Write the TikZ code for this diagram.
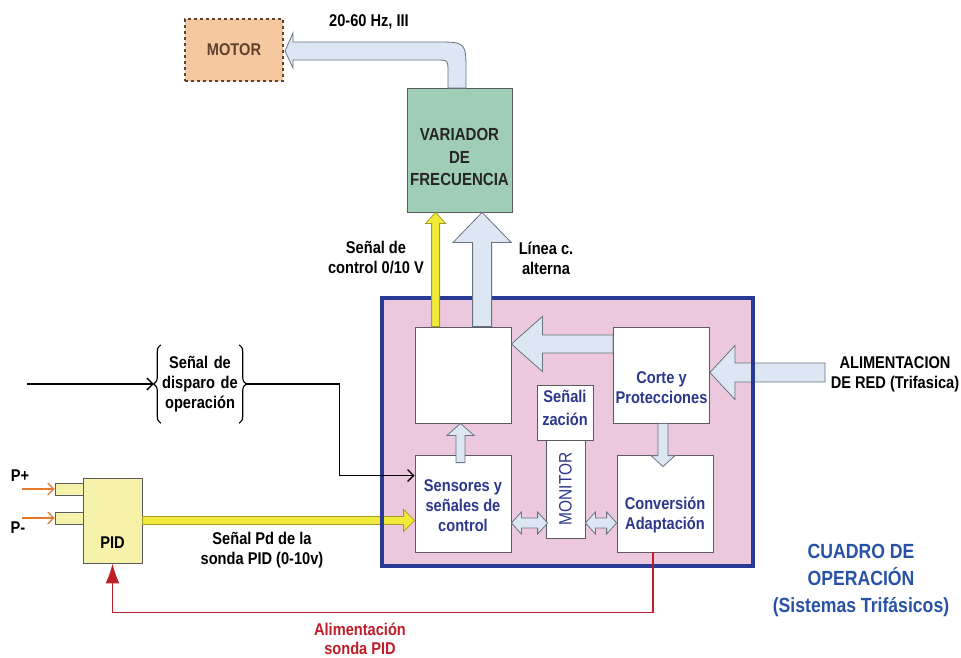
\documentclass[tikz,border=0pt]{standalone}
\usepackage{fontspec}
\setmainfont{Liberation Sans}[FakeStretch=0.86]
\usetikzlibrary{calc,arrows.meta,decorations.pathreplacing}

\definecolor{pinkfill}{RGB}{236,200,222}
\definecolor{frameblue}{RGB}{38,58,150}
\definecolor{arrfill}{RGB}{221,231,243}
\definecolor{arrgray}{RGB}{105,115,130}
\definecolor{varfill}{RGB}{160,205,182}
\definecolor{motorfill}{RGB}{246,200,160}
\definecolor{motorline}{RGB}{95,65,45}
\definecolor{pidfill}{RGB}{246,242,170}
\definecolor{yelfill}{RGB}{242,234,58}
\definecolor{yelline}{RGB}{165,155,40}
\definecolor{txtblue}{RGB}{45,55,140}
\definecolor{cuadroblue}{RGB}{40,82,165}
\definecolor{redline}{RGB}{190,30,40}
\definecolor{orangeline}{RGB}{228,122,42}
\definecolor{boxgray}{RGB}{90,90,95}

% block arrow: [style]{start}{tip}{half shaft}{half head}{head length}
\newcommand{\blockarrow}[6][hollow]{%
  \coordinate (ba-s) at (#2);
  \coordinate (ba-t) at (#3);
  \coordinate (ba-b) at ($(ba-t)!#6!(ba-s)$);
  \draw[#1] ($(ba-s)!#4!90:(ba-t)$) -- ($(ba-b)!#4!90:(ba-t)$)
    -- ($(ba-b)!#5!90:(ba-t)$) -- (ba-t) -- ($(ba-b)!#5!-90:(ba-t)$)
    -- ($(ba-b)!#4!-90:(ba-t)$) -- ($(ba-s)!#4!-90:(ba-t)$) -- cycle;}

% double block arrow: [style]{end a}{end b}{half shaft}{half head}{head length}
\newcommand{\dblarrow}[6][hollow]{%
  \coordinate (da-a) at (#2);
  \coordinate (da-b) at (#3);
  \coordinate (da-p) at ($(da-a)!#6!(da-b)$);
  \coordinate (da-q) at ($(da-b)!#6!(da-a)$);
  \draw[#1] (da-a) -- ($(da-p)!#5!90:(da-b)$) -- ($(da-p)!#4!90:(da-b)$)
    -- ($(da-q)!#4!-90:(da-a)$) -- ($(da-q)!#5!-90:(da-a)$) -- (da-b)
    -- ($(da-q)!#5!90:(da-a)$) -- ($(da-q)!#4!90:(da-a)$)
    -- ($(da-p)!#4!-90:(da-b)$) -- ($(da-p)!#5!-90:(da-b)$) -- cycle;}

\tikzset{
  lbl/.style={font=\bfseries\fontsize{17}{20}\selectfont, align=center, inner sep=0pt},
  bluetxt/.style={lbl, text=txtblue},
  innerbox/.style={draw=boxgray, fill=white, line width=0.8pt, minimum width=96pt, minimum height=96pt, inner sep=0pt},
  hollow/.style={draw=arrgray, fill=arrfill, line width=0.8pt},
  yelarrow/.style={draw=yelline, fill=yelfill, line width=0.8pt},
  trig/.style={line width=1.4pt, -{Straight Barb[length=6pt,width=12pt]}},
  orarrow/.style={draw=orangeline, line width=1.2pt, -{Straight Barb[length=6pt,width=12pt]}},
  brace/.style={decorate, decoration={brace, amplitude=7pt}, line width=1.2pt},
}

\begin{document}
\begin{tikzpicture}[x=1pt,y=-1pt]
\useasboundingbox (0,0) rectangle (961,657);

% cuadro de operacion
\node[fill=pinkfill, minimum width=371pt, minimum height=268pt, inner sep=0pt] (cuadro) at (567.5,432) {};
\draw[frameblue, line width=3.5pt] (cuadro.north west) rectangle (cuadro.south east);

% boxes
\node[draw=motorline, dashed, line width=1.2pt, fill=motorfill, minimum width=98pt, minimum height=62pt, lbl, text=motorline] (motor) at (234,50) {MOTOR};
\node[draw=boxgray, line width=0.8pt, fill=varfill, minimum width=105pt, minimum height=124pt] (var) at (459.5,150) {};
\node[lbl, text=black!85, font=\bfseries\fontsize{17.5}{22.5}\selectfont] at ($(var)+(0,7)$) {VARIADOR\\DE\\FRECUENCIA};
\node[innerbox] (pot) at (463,375) {};
\node[innerbox] (corte) at (661.5,375) {};
\node[bluetxt] at ($(corte)+(0,13)$) {Corte y\\Protecciones};
\node[innerbox, minimum width=56pt, minimum height=55pt] (senal) at (565,412.5) {};
\node[bluetxt, font=\bfseries\fontsize{17}{23}\selectfont] at ($(senal)+(0,-5)$) {Señali\\zación};
\node[innerbox, minimum width=39pt, minimum height=98pt] (mon) at (565.5,489) {};
\node[text=txtblue, font=\fontsize{18}{20}\selectfont, rotate=90, inner sep=0pt] at (mon) {MONITOR};
\node[innerbox, minimum height=97pt] (sens) at (463,503.5) {};
\node[bluetxt] at ($(sens)+(0,2)$) {Sensores y\\señales de\\control};
\node[innerbox, minimum height=97pt] (conv) at (665,503.5) {};
\node[bluetxt] at ($(conv)+(0,12)$) {Conversión\\Adaptación};

% PID
\node[draw=boxgray, line width=0.8pt, fill=pidfill, minimum width=28pt, minimum height=12pt, inner sep=0pt] (stubA) at (69,489) {};
\node[draw=boxgray, line width=0.8pt, fill=pidfill, minimum width=28pt, minimum height=12pt, inner sep=0pt] (stubB) at (69,518) {};
\node[draw=boxgray, line width=0.8pt, fill=pidfill, minimum width=59pt, minimum height=85pt] (pid) at (112.5,520.5) {};
\node[lbl] at ($(pid)+(0,22)$) {PID};
\node[lbl] (pplus) at (20,476) {P+};
\node[lbl] (pminus) at (18,528) {P-};
\coordinate (inA) at (22,489);
\coordinate (inB) at (22,518);
\draw[orarrow] (inA) -- (stubA.west);
\draw[orarrow] (inB) -- (stubB.west);

% labels
\node[lbl] (hz) at (369,22) {20-60 Hz, III};
\node[lbl] (ctrllbl) at (376,258) {Señal de\\control 0/10 V};
\node[lbl] (aclbl) at (546,258) {Línea c.\\alterna};
\node[lbl] (alim) at (895,374) {ALIMENTACION\\DE RED (Trifasica)};
\node[lbl] (pdlbl) at (262,550) {Señal Pd de la\\sonda PID (0-10v)};
\node[lbl, text=redline, font=\bfseries\fontsize{17}{19}\selectfont] (redlbl) at (360,639) {Alimentación\\sonda PID};
\node[lbl, text=cuadroblue, font=\bfseries\fontsize{20.5}{27}\selectfont] (cuadrolbl) at (861,580) {CUADRO DE\\OPERACIÓN\\(Sistemas Trifásicos)};
\node[lbl, text width=78pt, minimum height=78pt] (disp) at (200,384) {Señal de\\disparo de\\operación};

% disparo
\draw[brace] (disp.south west) -- (disp.north west);
\draw[brace] (disp.north east) -- (disp.south east);
\coordinate (trigin) at (27,384);
\coordinate (bl) at ($(disp.west)+(-7,0)$);
\coordinate (br) at ($(disp.east)+(7,0)$);
\coordinate (sensin) at ($(sens.north west)+(0,21)$);
\draw[trig] (trigin) -- (bl);
\draw[line width=1.4pt] (br) -- ++(93,0) |- ($(sensin)+(-40,0)$);

% arrows crossing the sides of the frame
\coordinate (ysB) at (pid.east -| sens.west);
\blockarrow[yelarrow]{pid.east}{ysB}{4pt}{11pt}{11pt}
\coordinate (alA) at (825,372.5);
\coordinate (alB) at (alA -| corte.east);
\blockarrow[hollow]{alA}{alB}{9.5pt}{27pt}{25pt}
\draw[frameblue, line width=3.5pt] (cuadro.north west) rectangle (cuadro.south east);
\draw[trig] ($(sensin)+(-41,0)$) -- (sensin);

% arrows inside the frame
\coordinate (cpA) at ($(corte.west)+(0,-31)$);
\coordinate (cpB) at (cpA -| pot.east);
\blockarrow[hollow]{cpA}{cpB}{9pt}{27.5pt}{31pt}
\coordinate (spA) at ($(sens.north)+(-2.5,8)$);
\coordinate (spB) at (spA |- pot.south);
\blockarrow[hollow]{spA}{spB}{4.5pt}{13.5pt}{12pt}
\coordinate (ccA) at ($(corte.south)+(1.5,0)$);
\coordinate (ccB) at ($(ccA |- conv.north)+(0,12)$);
\blockarrow[hollow]{ccA}{ccB}{5pt}{12pt}{11pt}
\coordinate (d1a) at ($(sens.east)+(0,19.5)$);
\coordinate (d1b) at ($(d1a -| mon.west)+(2,0)$);
\dblarrow[hollow]{d1a}{d1b}{5pt}{11pt}{10pt}
\coordinate (d2a) at (d1a -| mon.east);
\coordinate (d2b) at (d1a -| conv.west);
\dblarrow[hollow]{d2a}{d2b}{5pt}{11pt}{10pt}

% arrows up to the variador
\coordinate (yelbot) at ($(pot.north west)+(21,0)$);
\coordinate (yeltop) at (yelbot |- var.south);
\blockarrow[yelarrow]{yelbot}{yeltop}{4pt}{10pt}{11pt}
\coordinate (acbot) at ($(pot.north west)+(67.5,0)$);
\coordinate (actop) at (acbot |- var.south);
\blockarrow[hollow]{acbot}{actop}{9.5pt}{29pt}{30pt}

% variador to motor
\draw[hollow] (448,88) -- (448,72) .. controls (448,60) .. (436,60) -- (293,60) -- (293,68)
  -- (285,51) -- (293,33) -- (293,42) -- (436,42) .. controls (466,42) .. (466,72) -- (466,88) -- cycle;

% alimentacion sonda PID
\coordinate (rdA) at ($(conv.south)+(-12,0)$);
\draw[redline, line width=1.8pt, -{Latex[length=20pt,width=14pt]}] (rdA) -- ++(0,60) -| (pid.south);
\end{tikzpicture}
\end{document}
